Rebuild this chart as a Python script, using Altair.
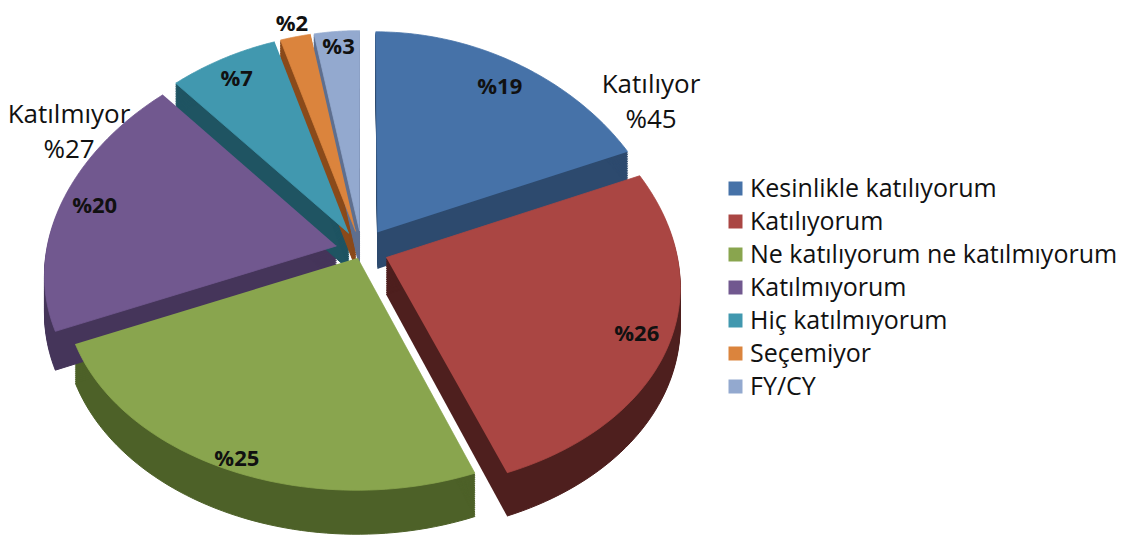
import altair as alt
import pandas as pd
import math

# ---- data ----
categories = ["Kesinlikle katılıyorum", "Katılıyorum", "Ne katılıyorum ne katılmıyorum",
              "Katılmıyorum", "Hiç katılmıyorum", "Seçemiyor", "FY/CY"]
values = [19, 26, 25, 20, 7, 2, 3]
group_names = ["Katılıyor", "Katılmıyor"]

# ---- styles ----
top_colors = ["#4672A8", "#AA4643", "#89A54E", "#71588F", "#4198AF", "#DB843D", "#93A9CF"]
side_colors = ["#2D4A6E", "#4E1F1E", "#4D6128", "#45355A", "#1F5462", "#8A4A1A", "#5E6F8F"]
explode = [0.10, 0.09, 0.04, 0.09, 0.09, 0.09, 0.09]
label_r = [0.86, 0.89, 0.95, 0.88, 0.88, 1.07, 0.92]
FONT = "Open Sans"
W, H = 1108, 541
YSHIFT = 2.5
PERSP = 0.13   # horizontal narrowing towards the back
XS = alt.Scale(domain=[-1.2207, 2.6], nice=False, zero=False)
YS = alt.Scale(type="pow", exponent=0.68, domain=[1.2377, 3.709], nice=False, zero=False)
DEPTH = 0.17  # side wall depth in y units
NSTEP = 60

total = sum(values)
a0, a1, acc = [], [], 0.0
for v in values:
    a0.append(acc / total * 2 * math.pi)
    acc += v
    a1.append(acc / total * 2 * math.pi)

df = pd.DataFrame({
    "cat": categories, "value": values, "a0": a0, "a1": a1,
    "explode": explode, "lr": label_r, "side": side_colors,
    "lab": ["%" + str(v) for v in values],
})

base = alt.Chart(df)

poly = base.transform_calculate(
    seq=f"sequence(0, {NSTEP + 2})"
).transform_flatten(["seq"], as_=["i"]).transform_calculate(
    ang=f"datum.a0 + (datum.a1 - datum.a0) * (datum.i - 1) / {NSTEP}",
    mid="(datum.a0 + datum.a1) / 2",
    ox="datum.explode * sin(datum.mid)",
    oy="datum.explode * cos(datum.mid)",
    rx="datum.i == 0 ? datum.ox : datum.ox + sin(datum.ang)",
    ry="datum.i == 0 ? datum.oy : datum.oy + cos(datum.ang)",
    px=f"datum.rx * (1 - {PERSP} * datum.ry)",
    py=f"datum.ry + {YSHIFT}",
)

sides = poly.transform_calculate(
    dseq="sequence(1, 21)"
).transform_flatten(["dseq"], as_=["k"]).transform_calculate(
    py2=f"datum.py - datum.k * {DEPTH} / 20"
).mark_line(strokeWidth=1).encode(
    x=alt.X("px:Q", scale=XS, axis=None),
    y=alt.Y("py2:Q", scale=YS, axis=None),
    order=alt.Order("i:Q"),
    detail=[alt.Detail("cat:N"), alt.Detail("k:Q")],
    fill=alt.Fill("side:N", scale=None),
    stroke=alt.Stroke("side:N", scale=None),
)

color_scale = alt.Scale(domain=categories, range=top_colors)
tops = poly.mark_line(strokeWidth=0.8).encode(
    x=alt.X("px:Q", scale=XS, axis=None),
    y=alt.Y("py:Q", scale=YS, axis=None),
    order=alt.Order("i:Q"),
    detail=alt.Detail("cat:N"),
    fill=alt.Fill("cat:N", scale=color_scale, sort=categories, legend=alt.Legend(
        orient="none", legendX=715, legendY=168, title=None,
        symbolType="square", symbolSize=196, symbolStrokeWidth=0,
        labelFont=FONT, labelFontSize=25, labelColor="#111111",
        rowPadding=7, labelOffset=2, labelLimit=600)),
    stroke=alt.Stroke("cat:N", scale=color_scale, legend=None),
)

labels = base.transform_calculate(
    mid="(datum.a0 + datum.a1) / 2",
    lrx="(datum.explode + datum.lr) * sin(datum.mid)",
    lry="(datum.explode + datum.lr) * cos(datum.mid)",
    lx=f"datum.lrx * (1 - {PERSP} * datum.lry)",
    ly=f"datum.lry + {YSHIFT}",
).mark_text(font=FONT, fontSize=22, fontWeight="bold", color="#111111").encode(
    x=alt.X("lx:Q", scale=XS, axis=None),
    y=alt.Y("ly:Q", scale=YS, axis=None),
    text="lab:N",
)

ann_df = pd.DataFrame({
    "t": [group_names[0] + "\n%" + str(values[0] + values[1]),
          group_names[1] + "\n%" + str(values[3] + values[4])],
    "gx": [643, 61],
    "gy": [77, 107],
})
ann = alt.Chart(ann_df).mark_text(
    font=FONT, fontSize=26, color="#111111", lineBreak="\n", lineHeight=35, baseline="middle"
).encode(x=alt.X("gx:Q", scale=None), y=alt.Y("gy:Q", scale=None), text="t:N")

chart = alt.layer(sides, tops, labels, ann).resolve_scale(
    fill="independent", stroke="independent"
).properties(
    width=W, height=H, autosize="none", padding=0
).configure_view(stroke=None)

chart.save("out.html", embed_options={"renderer": "svg", "actions": False})
